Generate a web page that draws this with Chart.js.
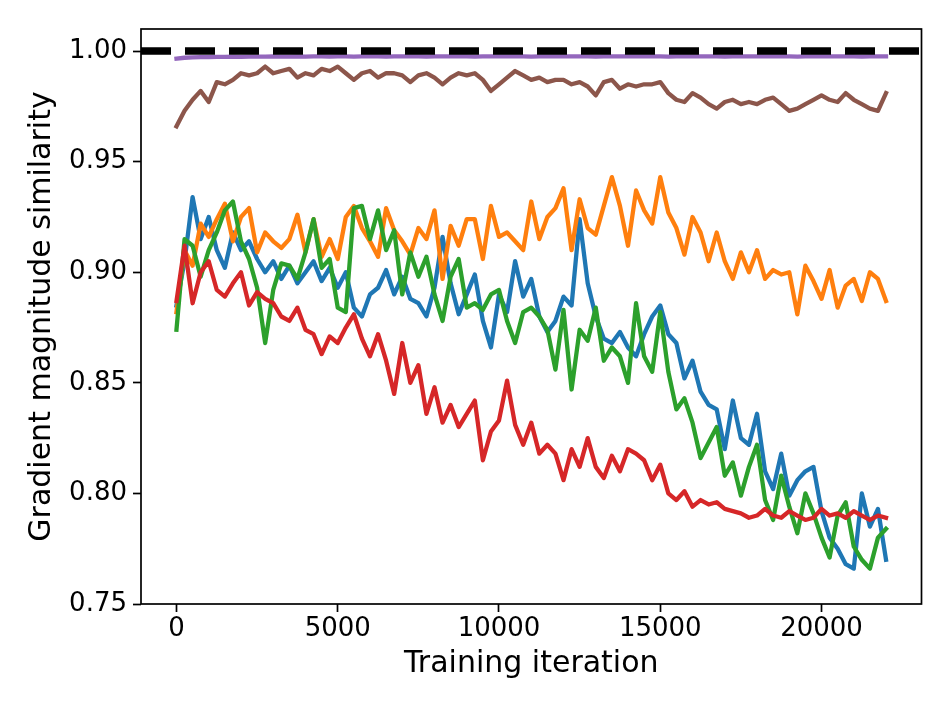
<!DOCTYPE html>
<html>
<head>
<meta charset="utf-8">
<title>Gradient magnitude similarity</title>
<script src="https://cdn.jsdelivr.net/npm/chart.js@4.4.0/dist/chart.umd.min.js"></script>
<style>
  html, body { margin: 0; padding: 0; background: #fff; }
  #chart { display: block; }
</style>
</head>
<body>
<canvas id="chart" width="951" height="713" style="width:951px;height:713px"></canvas>
<script>
// --- DATA (one sample every 250 iterations) ---
const iterStep = 250;
const iterations = Array.from({ length: 89 }, (_, i) => i * iterStep);

const xTicks = [0, 5000, 10000, 15000, 20000];
const yTicks = [0.75, 0.80, 0.85, 0.90, 0.95, 1.00];
const xLimits = [-1100, 23100];
const yLimits = [0.75, 1.01];
const referenceLevel = 1.0;

const blueSeries = [
  0.885, 0.905, 0.934, 0.915, 0.925, 0.910, 0.902, 0.918, 0.910, 0.914,
  0.906, 0.900, 0.905, 0.897, 0.903, 0.895, 0.900, 0.905, 0.896, 0.902,
  0.893, 0.900, 0.884, 0.880, 0.890, 0.893, 0.901, 0.890, 0.898, 0.888,
  0.886, 0.880, 0.893, 0.916, 0.895, 0.881, 0.890, 0.899, 0.878, 0.866,
  0.890, 0.882, 0.905, 0.889, 0.897, 0.880, 0.873, 0.878, 0.889, 0.885,
  0.924, 0.895, 0.880, 0.870, 0.868, 0.873, 0.866, 0.862, 0.872, 0.880,
  0.885, 0.872, 0.868, 0.852, 0.860, 0.846, 0.840, 0.838, 0.820, 0.842,
  0.825, 0.822, 0.836, 0.810, 0.802, 0.818, 0.799, 0.806, 0.810, 0.812,
  0.792, 0.780, 0.775, 0.768, 0.766, 0.800, 0.785, 0.793, 0.770
];

const orangeSeries = [
  0.882, 0.910, 0.903, 0.922, 0.916, 0.924, 0.931, 0.914, 0.925, 0.929,
  0.909, 0.918, 0.914, 0.911, 0.915, 0.926, 0.909, 0.924, 0.907, 0.915,
  0.906, 0.925, 0.930, 0.920, 0.914, 0.907, 0.929, 0.919, 0.914, 0.908,
  0.920, 0.915, 0.928, 0.897, 0.921, 0.912, 0.924, 0.924, 0.906, 0.930,
  0.916, 0.918, 0.914, 0.910, 0.932, 0.915, 0.925, 0.929, 0.938, 0.910,
  0.933, 0.920, 0.917, 0.930, 0.943, 0.930, 0.912, 0.937, 0.928, 0.922,
  0.943, 0.927, 0.920, 0.908, 0.925, 0.918, 0.905, 0.918, 0.905, 0.897,
  0.909, 0.900, 0.910, 0.897, 0.901, 0.899, 0.900, 0.881, 0.903, 0.896,
  0.888, 0.901, 0.884, 0.894, 0.897, 0.887, 0.900, 0.897, 0.887
];

const greenSeries = [
  0.874, 0.915, 0.912, 0.898, 0.910, 0.918, 0.928, 0.932, 0.914, 0.906,
  0.893, 0.868, 0.892, 0.904, 0.903, 0.897, 0.909, 0.924, 0.902, 0.906,
  0.884, 0.882, 0.929, 0.930, 0.915, 0.928, 0.910, 0.919, 0.890, 0.909,
  0.898, 0.907, 0.890, 0.878, 0.898, 0.906, 0.884, 0.886, 0.883, 0.890,
  0.892, 0.878, 0.868, 0.882, 0.884, 0.880, 0.874, 0.856, 0.883, 0.847,
  0.874, 0.869, 0.884, 0.860, 0.866, 0.862, 0.850, 0.886, 0.862, 0.855,
  0.882, 0.855, 0.838, 0.843, 0.832, 0.816, 0.823, 0.830, 0.808, 0.814,
  0.799, 0.812, 0.822, 0.797, 0.788, 0.808, 0.794, 0.782, 0.800, 0.791,
  0.780, 0.771, 0.790, 0.796, 0.776, 0.770, 0.766, 0.780, 0.784
];

const redSeries = [
  0.887, 0.912, 0.886, 0.900, 0.905, 0.892, 0.889, 0.895, 0.900, 0.885,
  0.891, 0.888, 0.886, 0.880, 0.878, 0.884, 0.874, 0.872, 0.863, 0.871,
  0.868, 0.875, 0.881, 0.870, 0.862, 0.872, 0.860, 0.845, 0.868, 0.850,
  0.858, 0.836, 0.848, 0.832, 0.840, 0.830, 0.836, 0.842, 0.815, 0.828,
  0.833, 0.851, 0.831, 0.822, 0.832, 0.818, 0.822, 0.818, 0.806, 0.820,
  0.812, 0.825, 0.812, 0.807, 0.817, 0.810, 0.820, 0.818, 0.815, 0.806,
  0.813, 0.800, 0.797, 0.801, 0.794, 0.797, 0.795, 0.796, 0.793, 0.792,
  0.791, 0.789, 0.790, 0.793, 0.790, 0.789, 0.792, 0.790, 0.788, 0.789,
  0.793, 0.790, 0.791, 0.789, 0.792, 0.790, 0.788, 0.790, 0.789
];

const purpleSeries = [
  0.9966, 0.9970, 0.9972, 0.9973, 0.9973, 0.9974, 0.9974, 0.9975, 0.9974, 0.9975,
  0.9975, 0.9975, 0.9976, 0.9975, 0.9975, 0.9976, 0.9975, 0.9976, 0.9976, 0.9975,
  0.9976, 0.9976, 0.9975, 0.9976, 0.9976, 0.9976, 0.9975, 0.9976, 0.9976, 0.9976,
  0.9976, 0.9975, 0.9976, 0.9976, 0.9976, 0.9976, 0.9976, 0.9975, 0.9976, 0.9976,
  0.9976, 0.9976, 0.9976, 0.9976, 0.9975, 0.9976, 0.9976, 0.9976, 0.9976, 0.9976,
  0.9976, 0.9976, 0.9975, 0.9976, 0.9976, 0.9976, 0.9976, 0.9976, 0.9976, 0.9976,
  0.9976, 0.9975, 0.9976, 0.9976, 0.9976, 0.9976, 0.9976, 0.9976, 0.9975, 0.9976,
  0.9976, 0.9976, 0.9976, 0.9976, 0.9976, 0.9976, 0.9976, 0.9975, 0.9976, 0.9976,
  0.9976, 0.9976, 0.9976, 0.9976, 0.9976, 0.9975, 0.9976, 0.9976, 0.9976
];

const brownSeries = [
  0.966, 0.973, 0.978, 0.982, 0.977, 0.986, 0.985, 0.987, 0.990, 0.989,
  0.990, 0.993, 0.990, 0.991, 0.992, 0.988, 0.990, 0.989, 0.992, 0.991,
  0.993, 0.990, 0.987, 0.990, 0.991, 0.988, 0.990, 0.990, 0.989, 0.986,
  0.989, 0.990, 0.988, 0.985, 0.988, 0.990, 0.989, 0.990, 0.987, 0.982,
  0.985, 0.988, 0.991, 0.989, 0.987, 0.988, 0.986, 0.987, 0.987, 0.985,
  0.986, 0.984, 0.980, 0.986, 0.987, 0.983, 0.985, 0.984, 0.985, 0.985,
  0.986, 0.981, 0.978, 0.977, 0.981, 0.979, 0.976, 0.974, 0.977, 0.978,
  0.976, 0.977, 0.976, 0.978, 0.979, 0.976, 0.973, 0.974, 0.976, 0.978,
  0.980, 0.978, 0.977, 0.981, 0.978, 0.976, 0.974, 0.973, 0.981
];

// --- HELPERS ---
function toPoints(values) {
  return values.map((v, i) => ({ x: iterations[i], y: v }));
}

function lineSet(values, color, order) {
  return {
    data: toPoints(values),
    borderColor: color,
    borderWidth: 4.3,
    pointRadius: 0,
    tension: 0,
    borderJoinStyle: 'round',
    borderCapStyle: 'square',
    fill: false,
    order: order
  };
}

// matplotlib style box around the plot area
const frameBox = {
  id: 'frameBox',
  afterDraw(chart) {
    const { ctx, chartArea: a } = chart;
    ctx.save();
    ctx.strokeStyle = '#000';
    ctx.lineWidth = 1.7;
    ctx.strokeRect(a.left, a.top, a.right - a.left, a.bottom - a.top);
    ctx.restore();
  }
};

const FONT = "'DejaVu Sans', sans-serif";

// --- CHART ---
function initChart() {
  const ctx = document.getElementById('chart').getContext('2d');
  new Chart(ctx, {
    type: 'line',
    data: {
      datasets: [
        lineSet(blueSeries, '#1f77b4', 7),
        lineSet(orangeSeries, '#ff7f0e', 6),
        lineSet(greenSeries, '#2ca02c', 5),
        lineSet(redSeries, '#d62728', 4),
        lineSet(purpleSeries, '#9467bd', 3),
        lineSet(brownSeries, '#8c564b', 2),
        {
          data: [{ x: xLimits[0], y: referenceLevel }, { x: xLimits[1], y: referenceLevel }],
          borderColor: '#000',
          borderWidth: 7.5,
          borderDash: [30, 14],
          borderCapStyle: 'butt',
          pointRadius: 0,
          fill: false,
          order: 1
        }
      ]
    },
    options: {
      responsive: false,
      animation: false,
      devicePixelRatio: 1,
      layout: { padding: { top: 29, right: 29.5, left: 0, bottom: 0 } },
      plugins: {
        legend: { display: false },
        tooltip: { enabled: false }
      },
      scales: {
        x: {
          type: 'linear',
          min: xLimits[0],
          max: xLimits[1],
          afterFit: (s) => { s.height = 109; },
          afterBuildTicks: (s) => { s.ticks = xTicks.map(v => ({ value: v })); },
          border: { display: false },
          grid: { drawOnChartArea: false, drawTicks: true, tickLength: 8, tickWidth: 1.7, tickColor: '#000' },
          ticks: {
            color: '#000',
            padding: 2,
            maxRotation: 0,
            font: { family: FONT, size: 26 },
            callback: (v) => String(v)
          },
          title: {
            display: true,
            text: 'Training iteration',
            color: '#000',
            font: { family: FONT, size: 30 },
            padding: { top: 0, bottom: 31 }
          }
        },
        y: {
          type: 'linear',
          min: yLimits[0],
          max: yLimits[1],
          afterFit: (s) => { s.width = 141; },
          afterBuildTicks: (s) => { s.ticks = yTicks.map(v => ({ value: v })); },
          border: { display: false },
          grid: { drawOnChartArea: false, drawTicks: true, tickLength: 8, tickWidth: 1.7, tickColor: '#000' },
          ticks: {
            color: '#000',
            padding: 6,
            font: { family: FONT, size: 26 },
            callback: (v) => Number(v).toFixed(2)
          },
          title: {
            display: true,
            text: 'Gradient magnitude similarity',
            color: '#000',
            font: { family: FONT, size: 30 },
            padding: { top: 24, bottom: 0 }
          }
        }
      }
    },
    plugins: [frameBox]
  });
}

window.onload = () => {
  initChart();
};
</script>
</body>
</html>
